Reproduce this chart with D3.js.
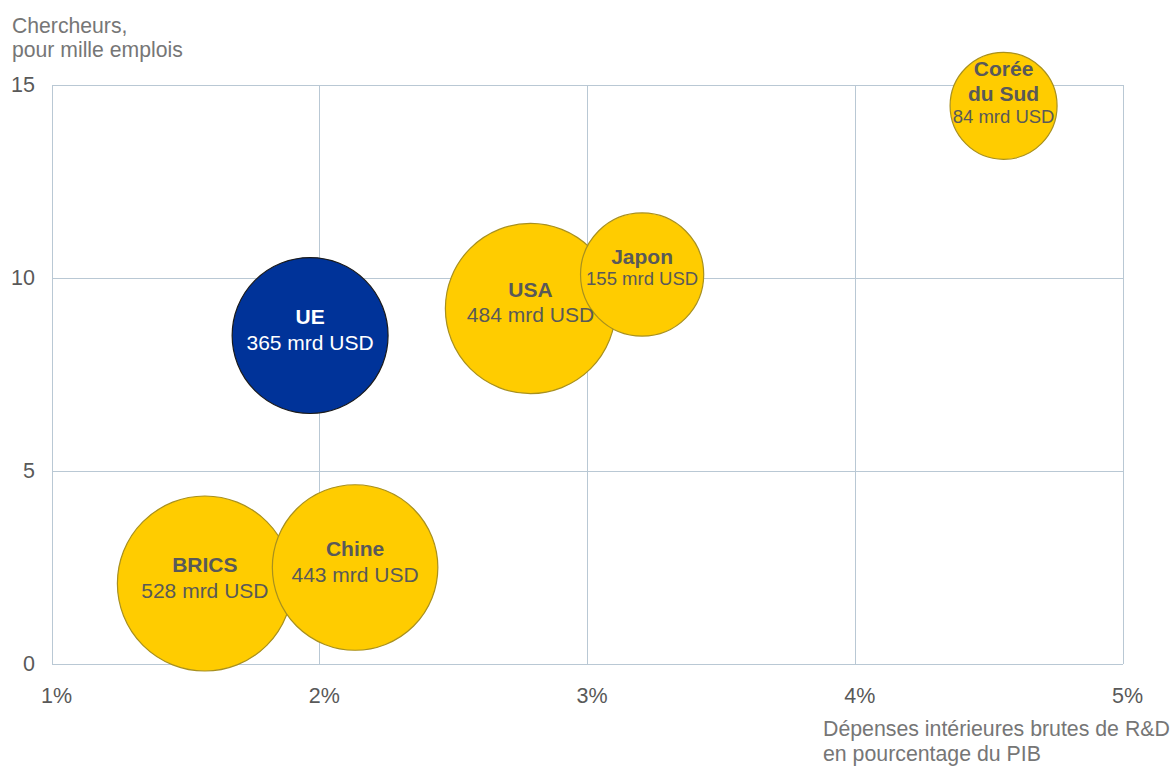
<!DOCTYPE html>
<html>
<head>
<meta charset="utf-8">
<script src="https://cdn.jsdelivr.net/npm/d3@7"></script>
<style>
  html, body { margin: 0; padding: 0; background: #fff; }
  svg { display: block; font-family: "Liberation Sans", Arial, sans-serif; }
</style>
</head>
<body>
<svg id="chart" width="1176" height="767"></svg>
<script>
// ---- Data ----
const names = [["BRICS"], ["Chine"], ["UE"], ["USA"], ["Japon"], ["Corée", "du Sud"]];
const rdShare = [1.571, 2.132, 1.964, 2.787, 3.204, 4.554];        // % of GDP
const researchers = [2.085, 2.50, 8.51, 9.21, 10.09, 14.46];      // per 1000 jobs
const spending = [528, 443, 365, 484, 155, 84];                    // mrd USD
const isEU = [false, false, true, false, false, false];
const xTicks = [1, 2, 3, 4, 5];
const yTicks = [0, 5, 10, 15];
const yTitle = ["Chercheurs,", "pour mille emplois"];
const xTitle = ["Dépenses intérieures brutes de R&D", "en pourcentage du PIB"];

(function () {
// ---- Layout ----
const svg = d3.select("#chart");
const pLeft = 52, pRight = 1123, pTop = 85, pBottom = 664;
const textColor = "#595959";
const titleColor = "#767676";
const gridColor = "#B9C8D4";
const FONT = "'Liberation Sans', Arial, sans-serif";

const x = d3.scaleLinear().domain([1, 5]).range([pLeft, pRight]);
const y = d3.scaleLinear().domain([0, 15]).range([pBottom, pTop]);
const r = d3.scaleSqrt().domain([84, 528]).range([53.5, 87.5]);

// Grid lines
svg.append("g").selectAll("line").data(xTicks).join("line")
  .attr("x1", d => x(d)).attr("x2", d => x(d))
  .attr("y1", pTop).attr("y2", pBottom)
  .attr("stroke", gridColor).attr("stroke-width", 1).attr("shape-rendering", "crispEdges");
svg.append("g").selectAll("line").data(yTicks).join("line")
  .attr("x1", pLeft).attr("x2", pRight)
  .attr("y1", d => y(d)).attr("y2", d => y(d))
  .attr("stroke", gridColor).attr("stroke-width", 1).attr("shape-rendering", "crispEdges");

// Axis tick labels via d3 axes
const xAxis = svg.append("g").attr("transform", `translate(4,${pBottom})`)
  .call(d3.axisBottom(x).tickValues(xTicks).tickFormat(d => d + "%").tickSize(0).tickPadding(24));
const yAxis = svg.append("g").attr("transform", `translate(${pLeft - 17},0)`)
  .call(d3.axisLeft(y).tickValues(yTicks).tickFormat(d3.format("d")).tickSize(0).tickPadding(0));
[xAxis, yAxis].forEach(a => {
  a.select(".domain").remove();
  a.attr("font-family", null).attr("font-size", null);
  a.selectAll("text").attr("fill", textColor).style("font-size", "21.5px")
    .style("font-family", FONT);
});

// Axis titles
svg.append("text").attr("x", 12).attr("y", 33)
  .attr("fill", titleColor).style("font-size", "21.2px").style("font-family", FONT)
  .selectAll("tspan").data(yTitle).join("tspan")
  .attr("x", 12).attr("dy", (d, i) => i === 0 ? 0 : 24).text(d => d);
svg.append("text").attr("x", 823).attr("y", 736)
  .attr("fill", titleColor).style("font-size", "21.3px").style("font-family", FONT)
  .selectAll("tspan").data(xTitle).join("tspan")
  .attr("x", 823).attr("dy", (d, i) => i === 0 ? 0 : 25).text(d => d);

// Bubbles
const data = names.map((n, i) => ({
  name: n, xv: rdShare[i], yv: researchers[i], v: spending[i], eu: isEU[i]
}));

svg.append("g").selectAll("circle").data(data).join("circle")
  .attr("cx", d => x(d.xv)).attr("cy", d => y(d.yv)).attr("r", d => r(d.v))
  .attr("fill", d => d.eu ? "#003399" : "#FFCC00")
  .attr("stroke", d => d.eu ? "#1a1a1a" : "#A8901E")
  .attr("stroke-width", 1.2);

// Labels: bold name line(s) then value line; smaller value text in small bubbles
const lab = svg.append("g").selectAll("text").data(data).join("text")
  .attr("text-anchor", "middle")
  .attr("fill", d => d.eu ? "#ffffff" : textColor)
  .style("font-family", FONT);
lab.each(function (d) {
  const small = r(d.v) < 65;
  const cx = x(d.xv), cy = y(d.yv);
  const n = d.name.length + 1;
  const lastY = cy + (small ? 10.5 : 14) + (n > 2 ? 6.5 : 0);
  const gapVal = small ? 21.5 : 25.5;
  const lines = d.name.map((t, i) => ({
    t, bold: true, size: 21,
    yy: lastY - gapVal - (d.name.length - 1 - i) * 25.5
  })).concat([{ t: d.v + " mrd USD", bold: false, size: small ? 18.5 : 21, yy: lastY }]);
  d3.select(this).selectAll("tspan").data(lines).join("tspan")
    .attr("x", cx)
    .attr("y", l => l.yy)
    .style("font-size", l => l.size + "px")
    .style("font-weight", l => l.bold ? "bold" : "normal")
    .text(l => l.t);
});
})();
</script>
</body>
</html>
